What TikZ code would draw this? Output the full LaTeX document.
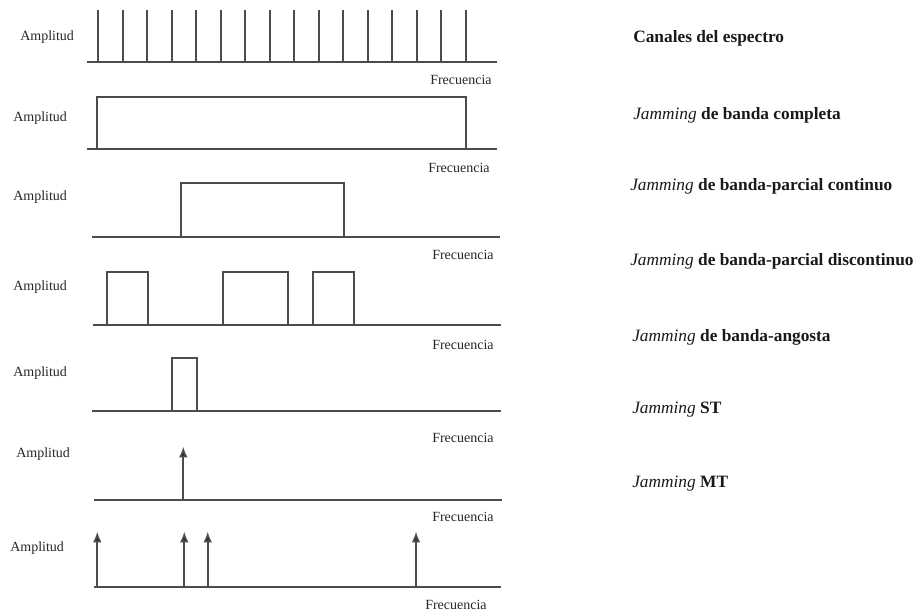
\documentclass[tikz,border=0pt]{standalone}
\usepackage{fontspec}
\setmainfont{Liberation Serif}
\usetikzlibrary{arrows.meta}
\begin{document}
\begin{tikzpicture}[x=0.75pt,y=-0.75pt,
  trace/.style={draw=black!70, line width=1.25pt},
  spike/.style={trace, -{Latex[length=8pt,width=6.5pt,fill=black!85]}},
  axislabel/.style={anchor=west, inner sep=0pt, text=black!85, font=\fontsize{10.5}{12}\selectfont},
  caption/.style={anchor=west, inner sep=0pt, text=black!90, font=\fontsize{13}{15}\selectfont\bfseries},
]
\useasboundingbox (0,0) rectangle (920,615);

% ---- spectrum channels ----
\coordinate (a1L) at (87,62);  \coordinate (a1R) at (497,62);
\draw[trace] (a1L) -- (a1R);
\foreach \i in {0,...,15}{
  \coordinate (ch\i b) at (98.3+24.5*\i,62);
  \coordinate (ch\i t) at (98.3+24.5*\i,10);
  \draw[trace] (ch\i b) -- (ch\i t);
}
\node[axislabel] (amp1) at (20,37) {Amplitud};
\node[axislabel] (frq1) at (430,80) {Frecuencia};
\node[caption] (cap1) at (633,38) {Canales del espectro};

% ---- full-band jamming ----
\coordinate (a2L) at (87,149.3);  \coordinate (a2R) at (497,149.3);
\draw[trace] (a2L) -- (a2R);
\draw[trace] (96.7,149.3) |- (465.7,96.7) -- (465.7,149.3);
\node[axislabel] (amp2) at (13,118) {Amplitud};
\node[axislabel] (frq2) at (428,168) {Frecuencia};
\node[caption] (cap2) at (633,115) {{\mdseries\itshape Jamming} de banda completa};

% ---- continuous partial-band jamming ----
\coordinate (a3L) at (92,236.7);  \coordinate (a3R) at (500,236.7);
\draw[trace] (a3L) -- (a3R);
\draw[trace] (180.7,236.7) |- (344,183.3) -- (344,236.7);
\node[axislabel] (amp3) at (13,197) {Amplitud};
\node[axislabel] (frq3) at (432,255) {Frecuencia};
\node[caption] (cap3) at (630,186) {{\mdseries\itshape Jamming} de banda-parcial continuo};

% ---- discontinuous partial-band jamming ----
\coordinate (a4L) at (93,325);  \coordinate (a4R) at (501,325);
\draw[trace] (a4L) -- (a4R);
\draw[trace] (106.7,325) |- (147.7,272.3) -- (147.7,325);
\draw[trace] (223.3,325) |- (287.7,272.3) -- (287.7,325);
\draw[trace] (312.7,325) |- (354.3,272.3) -- (354.3,325);
\node[axislabel] (amp4) at (13,287) {Amplitud};
\node[axislabel] (frq4) at (432,345) {Frecuencia};
\node[caption] (cap4) at (630,261) {{\mdseries\itshape Jamming} de banda-parcial discontinuo};

% ---- narrow-band jamming ----
\coordinate (a5L) at (92,411);  \coordinate (a5R) at (500.7,411);
\draw[trace] (a5L) -- (a5R);
\draw[trace] (171.7,411) |- (197.3,358.3) -- (197.3,411);
\node[axislabel] (amp5) at (13,373) {Amplitud};
\node[axislabel] (frq5) at (432,438) {Frecuencia};
\node[caption] (cap5) at (632,337) {{\mdseries\itshape Jamming} de banda-angosta};

% ---- single-tone jamming ----
\coordinate (a6L) at (94.3,500);  \coordinate (a6R) at (502.3,500);
\draw[trace] (a6L) -- (a6R);
\coordinate (t6b) at (183.3,500); \coordinate (t6t) at (183.3,446.7);
\draw[spike] (t6b) -- (t6t);
\node[axislabel] (amp6) at (16,454) {Amplitud};
\node[axislabel] (frq6) at (432,517) {Frecuencia};
\node[caption] (cap6) at (632,410) {{\mdseries\itshape Jamming} ST};

% ---- multi-tone jamming ----
\coordinate (a7L) at (94.3,586.7);  \coordinate (a7R) at (501,586.7);
\draw[trace] (a7L) -- (a7R);
\foreach \x [count=\k] in {97.3,184.3,207.7,416}{
  \coordinate (t7b\k) at (\x,586.7);
  \coordinate (t7t\k) at (\x,531.7);
  \draw[spike] (t7b\k) -- (t7t\k);
}
\node[axislabel] (amp7) at (10,548) {Amplitud};
\node[axislabel] (frq7) at (425,605) {Frecuencia};
\node[caption] (cap7) at (632,484) {{\mdseries\itshape Jamming} MT};
\end{tikzpicture}
\end{document}
